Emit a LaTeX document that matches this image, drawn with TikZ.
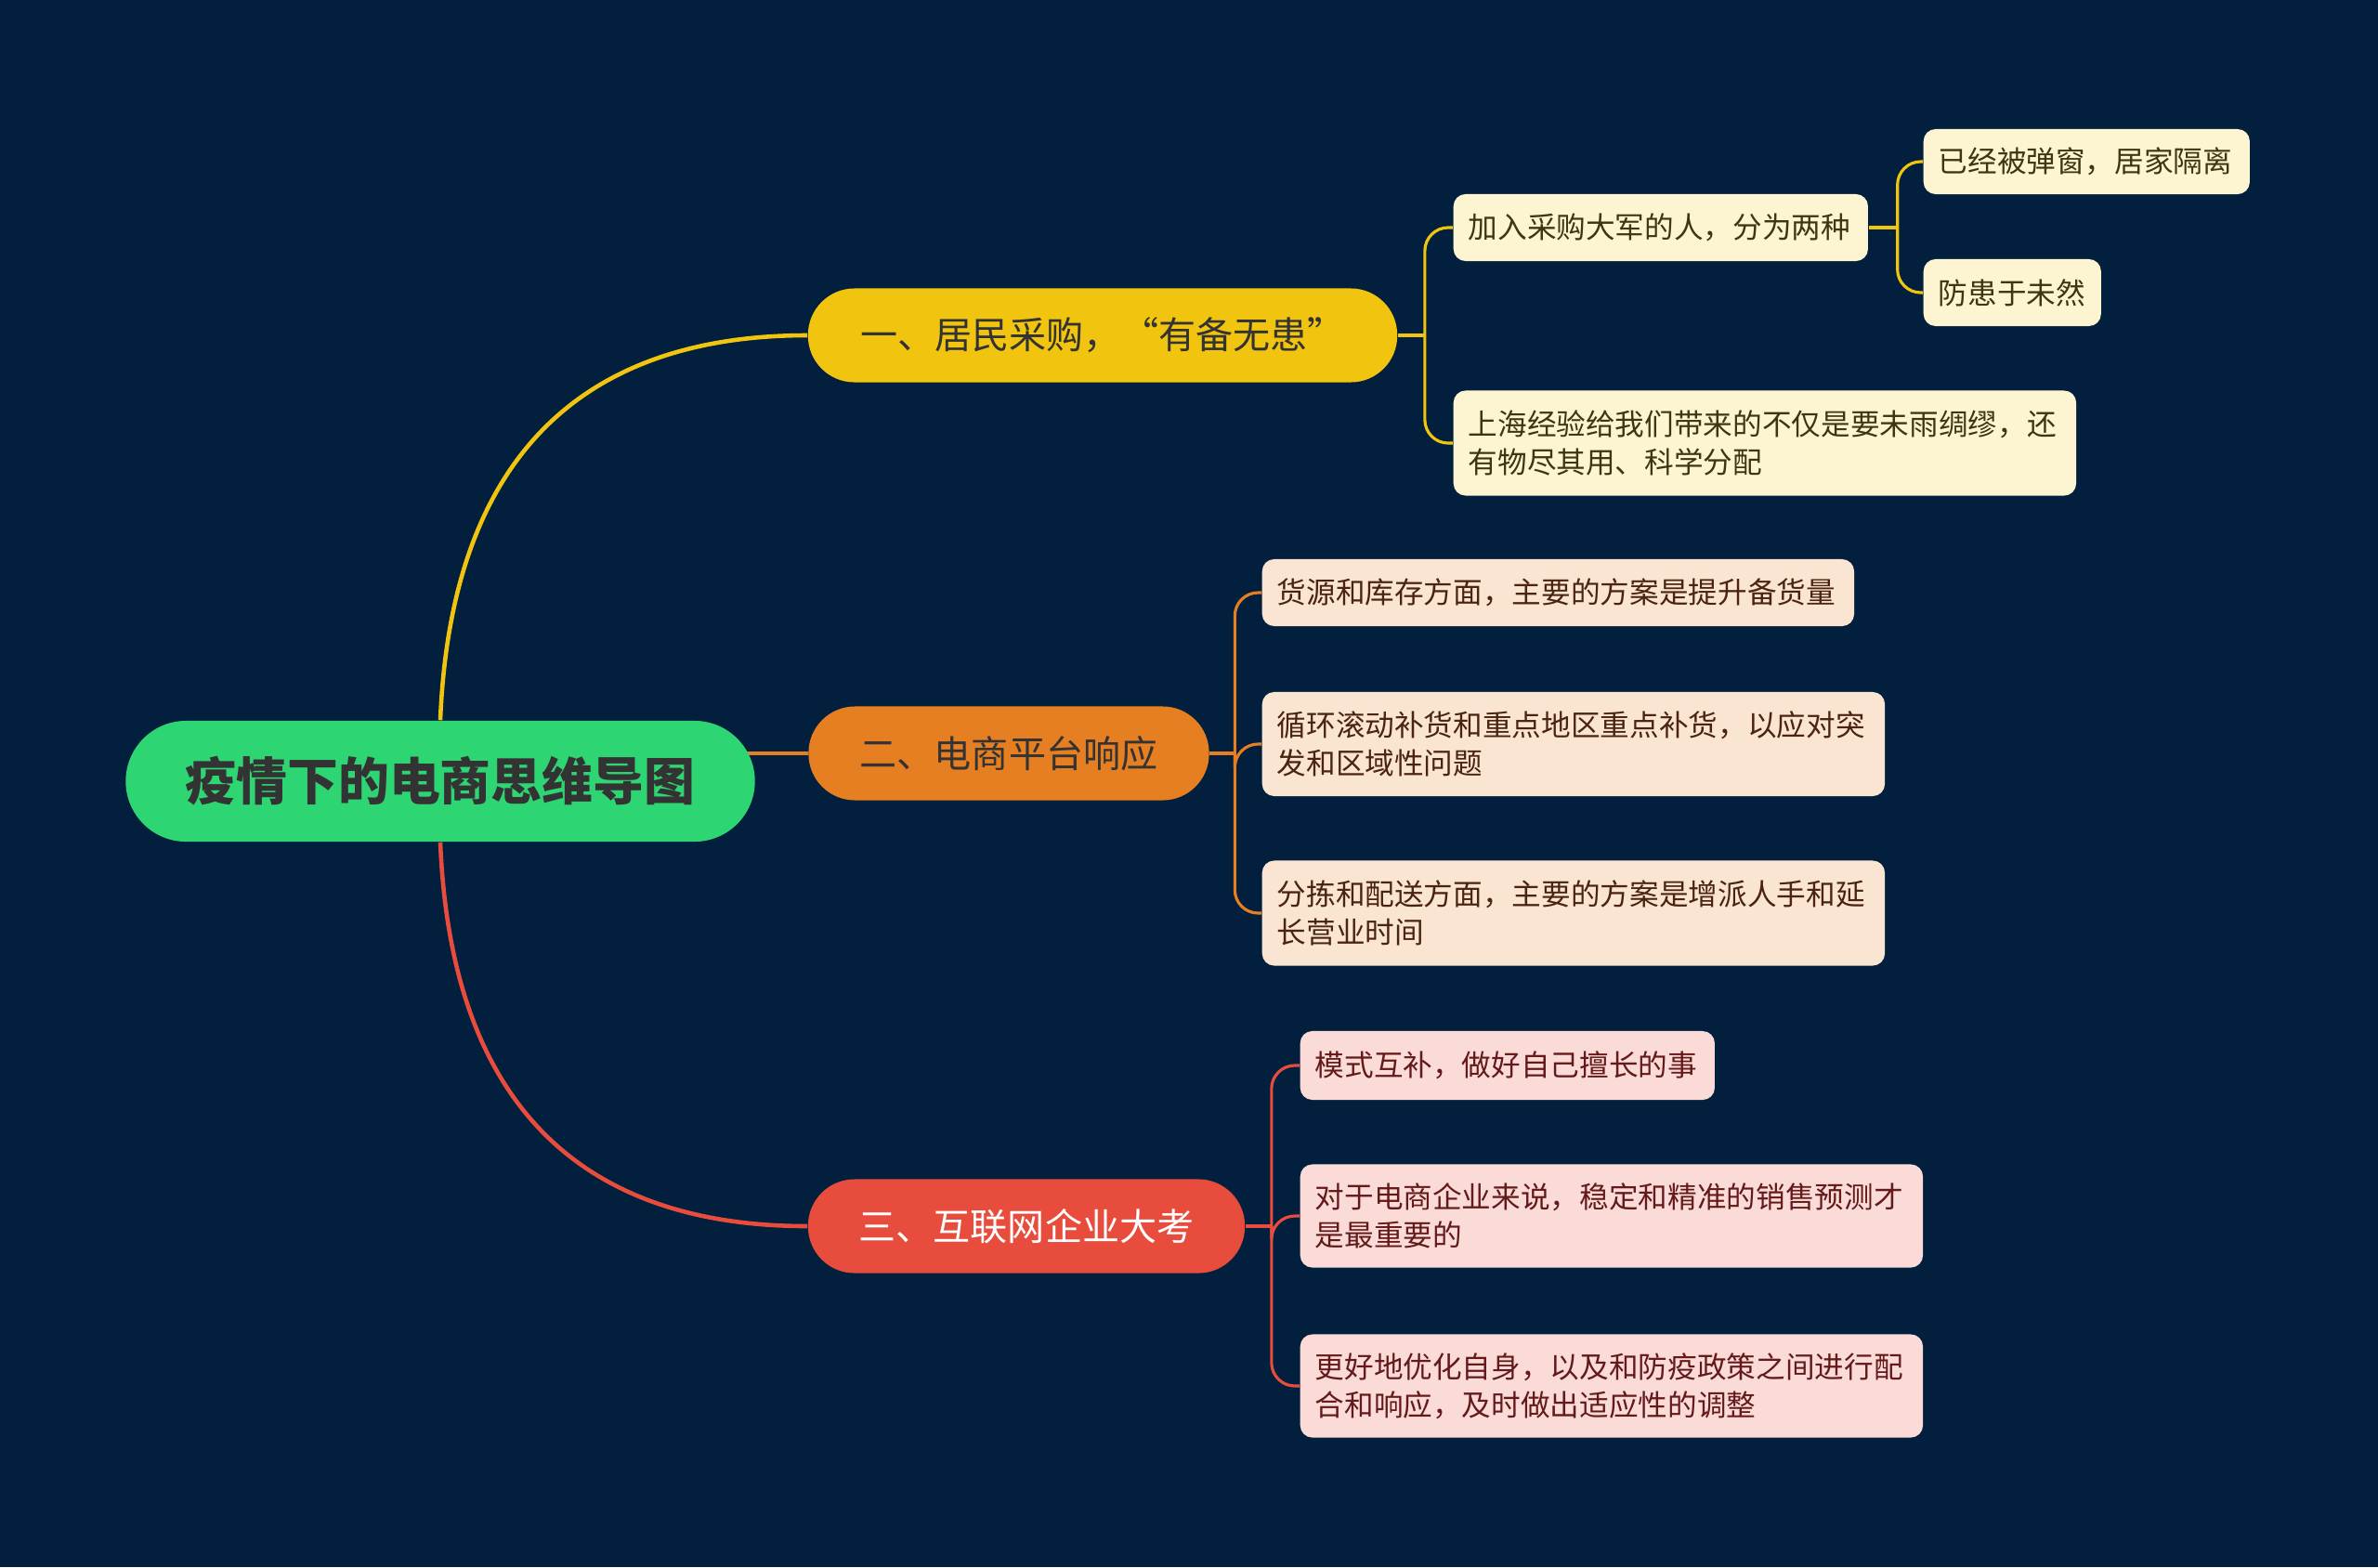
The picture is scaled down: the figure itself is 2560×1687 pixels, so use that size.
\documentclass[tikz,border=0pt]{standalone}
\usepackage{fontspec}
\setmainfont{Noto Sans CJK SC}
\usetikzlibrary{
    calc,
    backgrounds
}
\definecolor{bgnavy}{HTML}{02203D}
\definecolor{rootgreen}{HTML}{2ED573}
\definecolor{ink}{HTML}{333333}
\definecolor{ylw}{HTML}{F1C40F}
\definecolor{org}{HTML}{E67E22}
\definecolor{red}{HTML}{E74C3C}
\definecolor{ylwpale}{HTML}{FDF5D2}
\definecolor{orgpale}{HTML}{FAE5D3}
\definecolor{redpale}{HTML}{FADBD8}
\definecolor{ylwink}{HTML}{3F3510}
\definecolor{orgink}{HTML}{4A2410}
\definecolor{redink}{HTML}{641A1A}
\tikzset{
  root/.style={
    fill=rootgreen, text=ink,
    rounded corners=0.65cm,
    minimum width=6.77cm, minimum height=1.3cm,
    font=\fontsize{15.6}{18}\selectfont\bfseries
  },
  branch/.style={
    rounded corners=0.5cm,
    minimum height=1.01cm, inner sep=0pt,
    font=\fontsize{11.4}{14}\selectfont
  },
  leaf/.style={
    anchor=west, align=left,
    rounded corners=0.13cm,
    inner xsep=0.16cm, inner ysep=0pt,
    font=\fontsize{9}{11.7}\selectfont
  },
  ylwleaf/.style={leaf, fill=ylwpale, text=ylwink},
  orgleaf/.style={leaf, fill=orgpale, text=orgink},
  redleaf/.style={leaf, fill=redpale, text=redink},
  link/.style={line width=1.3pt},
  stub/.style={line width=1.1pt},
  twig/.style={line width=0.9pt, rounded corners=0.25cm}
}

\begin{document}
\begin{tikzpicture}[x=0.01cm, y=-0.01cm]
    \begin{scope}[on background layer]
      \fill[bgnavy] (0,0) rectangle (2560,1687);
    \end{scope}
    \useasboundingbox (0,0) rectangle (2560,1687);

    % 中心主题
    \node[root] (root) at (474,841) {疫情下的电商思维导图};

    % 分支
    \node[branch, fill=ylw, text=ink, minimum width=6.34cm] (b1) at (1187,361) {一、居民采购，“有备无患”};
    \node[branch, fill=org, text=ink, minimum width=4.31cm] (b2) at (1086,811) {二、电商平台响应};
    \node[branch, fill=red, text=white, minimum width=4.70cm] (b3) at (1105,1320) {三、互联网企业大考};

    % 子节点
    \node[ylwleaf, text width=4.14cm, minimum height=0.72cm] (l1a) at (1564,245) {加入采购大军的人，分为两种};
    \node[ylwleaf, text width=3.19cm, minimum height=0.70cm] (l1a1) at (2070,174) {已经被弹窗，居家隔离};
    \node[ylwleaf, text width=1.59cm, minimum height=0.72cm] (l1a2) at (2070,315) {防患于未然};
    \node[ylwleaf, text width=6.38cm, minimum height=1.13cm] (l1b) at (1564,477) {上海经验给我们带来的不仅是要未雨绸缪，还\\有物尽其用、科学分配};

    \node[orgleaf, text width=6.05cm, minimum height=0.72cm] (l2a) at (1358,638) {货源和库存方面，主要的方案是提升备货量};
    \node[orgleaf, text width=6.38cm, minimum height=1.12cm] (l2b) at (1358,801) {循环滚动补货和重点地区重点补货，以应对突\\发和区域性问题};
    \node[orgleaf, text width=6.38cm, minimum height=1.13cm] (l2c) at (1358,983) {分拣和配送方面，主要的方案是增派人手和延\\长营业时间};

    \node[redleaf, text width=4.14cm, minimum height=0.74cm] (l3a) at (1399,1147) {模式互补，做好自己擅长的事};
    \node[redleaf, text width=6.38cm, minimum height=1.11cm] (l3b) at (1399,1309) {对于电商企业来说，稳定和精准的销售预测才\\是最重要的};
    \node[redleaf, text width=6.38cm, minimum height=1.11cm] (l3c) at (1399,1492) {更好地优化自身，以及和防疫政策之间进行配\\合和响应，及时做出适应性的调整};

    % 连线
    \coordinate (s1) at ($(b1.east)+(29,0)$);
    \coordinate (s1a) at ($(l1a.east)+(31,0)$);
    \coordinate (s2) at ($(b2.east)+(27,0)$);
    \coordinate (s3) at ($(b3.east)+(28,0)$);
    \begin{scope}[on background layer]
      \draw[link, ylw] (root.north) .. controls +(12,-296) and +(-230,0) .. (b1.west);
      \draw[link, org] (root.center |- b2.west) -- (b2.west);
      \draw[link, red] (root.south) .. controls +(12,296) and +(-230,0) .. (b3.west);

      \draw[stub, ylw] (b1.east) -- (s1);
      \draw[twig, ylw] (s1) |- (l1a.west);
      \draw[twig, ylw] (s1) |- (l1b.west);
      \draw[stub, ylw] (l1a.east) -- (s1a);
      \draw[twig, ylw] (s1a) |- (l1a1.west);
      \draw[twig, ylw] (s1a) |- (l1a2.west);

      \draw[stub, org] (b2.east) -- (s2);
      \draw[twig, org] (s2) |- (l2a.west);
      \draw[twig, org] (s2) |- (l2b.west);
      \draw[twig, org] (s2) |- (l2c.west);

      \draw[stub, red] (b3.east) -- (s3);
      \draw[twig, red] (s3) |- (l3a.west);
      \draw[twig, red] (s3) |- (l3b.west);
      \draw[twig, red] (s3) |- (l3c.west);
    \end{scope}
\end{tikzpicture}
\end{document}
